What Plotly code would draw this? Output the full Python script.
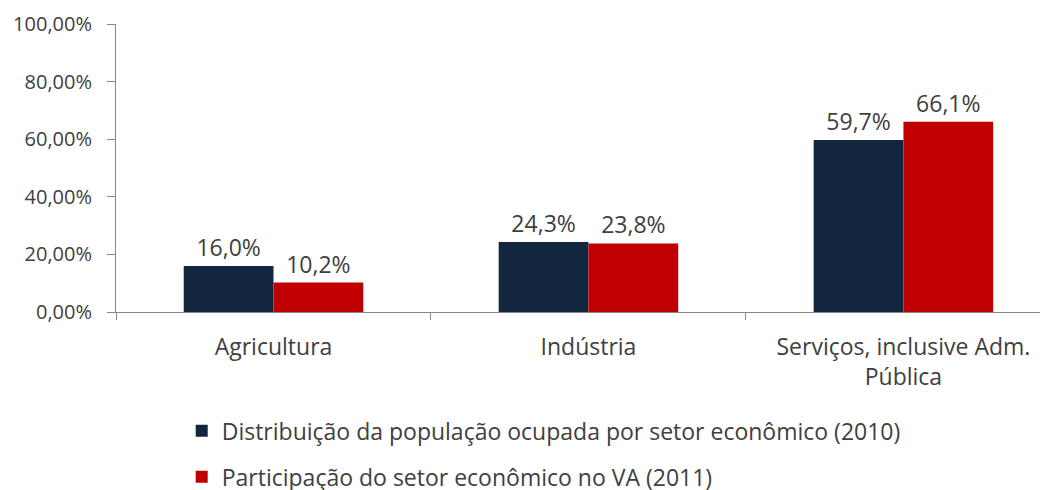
import plotly.graph_objects as go

categories = ["Agricultura", "Indústria", "Serviços, inclusive Adm.<br>Pública"]
series_names = [
    "Distribuição da população ocupada por setor econômico (2010)",
    "Participação do setor econômico no VA (2011)",
]
pop_2010 = [16.0, 24.3, 59.7]
va_2011 = [10.2, 23.8, 66.1]
colors = ["#13263F", "#C00000"]
y_ticks = [0, 20, 40, 60, 80, 100]
y_tick_labels = ["0,00%", "20,00%", "40,00%", "60,00%", "80,00%", "100,00%"]

FONT = "Open Sans"
TXT = "#404040"

fig = go.Figure()
for i, (name, vals) in enumerate(zip(series_names, [pop_2010, va_2011])):
    fig.add_trace(go.Bar(
        x=categories, y=vals, name=name,
        marker=dict(color=colors[i], line=dict(width=0)),
        text=vals, texttemplate="%{y:.1f}%", textposition="outside",
        textfont=dict(family=FONT, size=23, color=TXT),
        cliponaxis=False, legendgroup=f"g{i}",
    ))

fig.update_layout(
    width=1048, height=490,
    margin=dict(l=108, r=8, t=16, b=186, autoexpand=False),
    paper_bgcolor="white", plot_bgcolor="white",
    barmode="group", bargap=0.43, bargroupgap=0,
    separators=",.",
    showlegend=True,
    legend=dict(
        x=0.0705, y=-0.338, xanchor="left", yanchor="top",
        orientation="v", traceorder="grouped", tracegroupgap=13,
        font=dict(family=FONT, size=23, color=TXT),
        bgcolor="rgba(0,0,0,0)",
    ),
    font=dict(family=FONT, color=TXT),
)
fig.update_xaxes(
    range=[-0.5, 2.459], showline=True, linecolor="#888888", linewidth=1,
    ticks="outside", tickson="boundaries", ticklen=7, tickcolor="#888888",
    tickfont=dict(family=FONT, size=23, color=TXT), showgrid=False,
    automargin=False, ticklabelstandoff=14,
)
fig.update_yaxes(
    range=[0, 100], tickvals=y_ticks, ticktext=y_tick_labels,
    showline=True, linecolor="#888888", linewidth=1,
    ticks="outside", ticklen=8, tickcolor="#888888",
    tickfont=dict(family=FONT, size=20, color=TXT), showgrid=False, zeroline=False,
    automargin=False, ticklabelstandoff=11,
)

fig.write_html("out.html")
